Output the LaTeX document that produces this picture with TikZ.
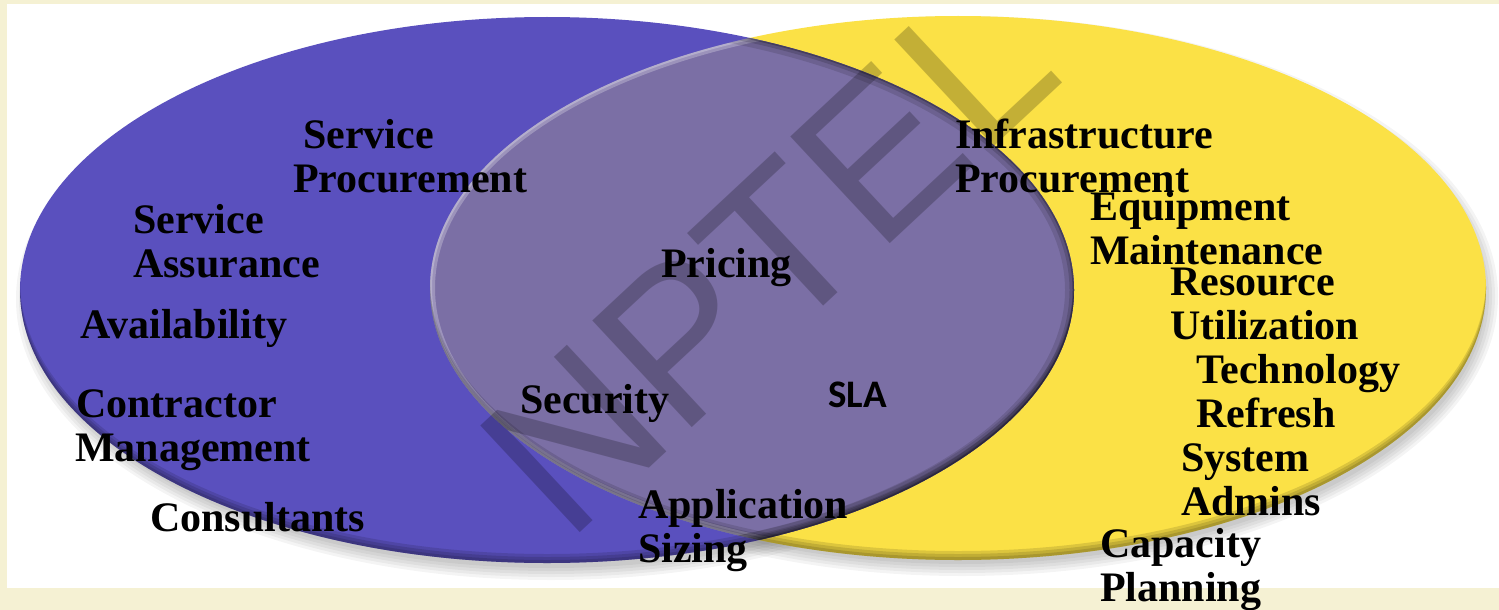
\documentclass[tikz,border=0pt]{standalone}
\usepackage{fontspec}
\setmainfont{Liberation Serif}
\newfontfamily\slafont{Carlito}
\newfontfamily\wmfont{Liberation Sans}
\definecolor{cream}{RGB}{245,241,211}
\definecolor{bluefill}{RGB}{90,80,190}
\definecolor{yellowfill}{RGB}{251,225,70}
\definecolor{overlapfill}{RGB}{123,111,165}
\tikzset{
  lbl/.style={anchor=base west, inner sep=0pt, font=\bfseries\fontsize{42}{44}\selectfont},
}
\newcommand{\ml}[1]{\begin{tabular}[t]{@{}l@{}}#1\end{tabular}}
\begin{document}
\begin{tikzpicture}[x=1pt,y=-1pt]
\useasboundingbox (0,0) rectangle (1499,610);
\fill[cream] (0,0) rectangle (1499,610);
\fill[white] (7,4) rectangle (1499,588);
% shadows
\foreach \d in {0,3,6,9,12}{
  \fill[black,opacity=0.045] (551,299) ellipse [x radius=527+\d-4, y radius=273+\d-4];
  \fill[black,opacity=0.045] (962,296) ellipse [x radius=528+\d-4, y radius=272+\d-4];
}
% yellow ellipse
\fill[yellowfill] (958,288) ellipse [x radius=528, y radius=272];
% blue ellipse
\fill[bluefill] (547,290) ellipse [x radius=527, y radius=273];
% overlap
\begin{scope}
  \clip (547,290) ellipse [x radius=527, y radius=273];
  \fill[overlapfill] (958,288) ellipse [x radius=528, y radius=272];
  \clip (958,288) ellipse [x radius=528, y radius=272];
  \draw[white,opacity=0.25,line width=10] (958,288) ellipse [x radius=528, y radius=272];
  \draw[white,opacity=0.25,line width=4] (958,288) ellipse [x radius=528, y radius=272];
  \draw[black,opacity=0.12,line width=18] (547,290) ellipse [x radius=527, y radius=273];
  \draw[black,opacity=0.15,line width=9] (547,290) ellipse [x radius=527, y radius=273];
  \draw[black,opacity=0.25,line width=3] (547,290) ellipse [x radius=527, y radius=273];
\end{scope}
% bottom inner darkening
\begin{scope}
  \clip (958,288) ellipse [x radius=528, y radius=272];
  \foreach \s in {3,6,9}{
    \fill[black,opacity=0.12,even odd rule] (0,0) rectangle (1499,610) (958,288-\s) ellipse [x radius=528, y radius=272];
  }
\end{scope}
\begin{scope}
  \clip (547,290) ellipse [x radius=527, y radius=273];
  \foreach \s in {3,6,9}{
    \fill[black,opacity=0.12,even odd rule] (0,0) rectangle (1499,610) (547,290-\s) ellipse [x radius=527, y radius=273];
  }
\end{scope}
% watermark
\node[rotate=43, font=\wmfont\fontsize{212}{212}\selectfont, text=black, text opacity=0.22, inner sep=0pt] (wm) at (768,258) {NPTEL};
% labels
\node[lbl] (sp) at (293,148) {\ml{\hspace*{10pt}Service\\Procurement}};
\node[lbl] (sa) at (133,233) {\ml{Service\\Assurance}};
\node[lbl] (av) at (80,338) {Availability};
\node[lbl] (cm) at (75,417) {\ml{\hspace*{1pt}Contractor\\Management}};
\node[lbl] (co) at (150,531) {Consultants};
\node[lbl] (pr) at (661,277) {Pricing};
\node[lbl] (se) at (520,413) {Security};
\node[anchor=base west, inner sep=0pt, font=\slafont\bfseries\fontsize{39}{44}\selectfont] (sla) at (828,407) {SLA};
\node[lbl] (as) at (638,518) {\ml{Application\\Sizing}};
\node[lbl] (ip) at (955,148) {\ml{Infrastructure\\Procurement}};
\node[lbl] (em) at (1090,220) {\ml{Equipment\\Maintenance}};
\node[lbl] (ru) at (1170,295) {\ml{Resource\\Utilization}};
\node[lbl] (tr) at (1196,383) {\ml{Technology\\Refresh}};
\node[lbl] (sy) at (1181,471) {\ml{System\\Admins}};
\node[lbl] (cp) at (1100,557) {\ml{Capacity\\Planning}};
\end{tikzpicture}
\end{document}
